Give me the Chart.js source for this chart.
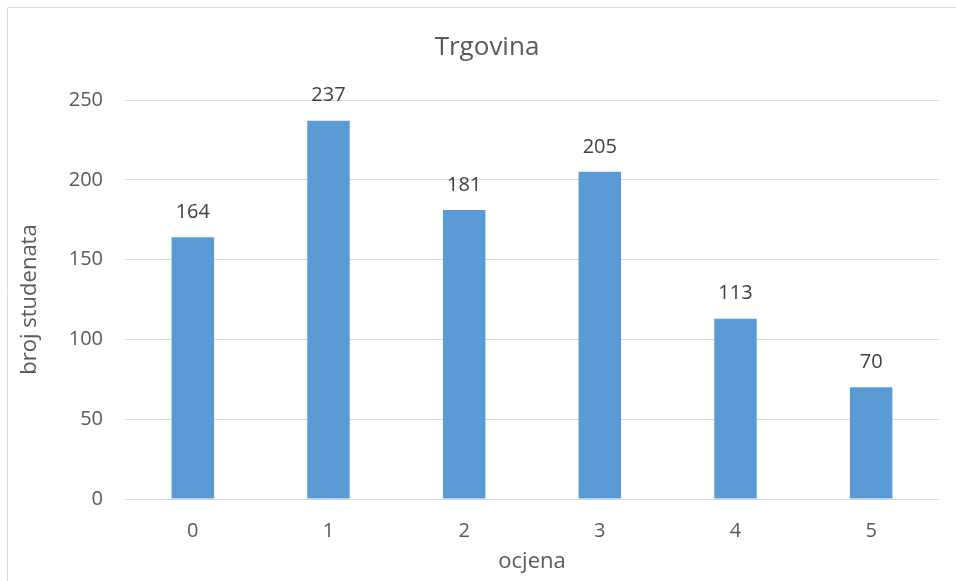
<!DOCTYPE html>
<html>
<head>
<meta charset="utf-8">
<script src="https://cdn.jsdelivr.net/npm/chart.js@4"></script>
<style>
html,body{margin:0;padding:0;background:#fff;}
#wrap{position:relative;width:956px;height:581px;}
</style>
</head>
<body>
<div id="wrap"><canvas id="c" width="956" height="581"></canvas></div>
<script>
const categories = ['0', '1', '2', '3', '4', '5'];
const studentCounts = [164, 237, 181, 205, 113, 70];
const yTicks = [0, 50, 100, 150, 200, 250];
const chartTitle = 'Trgovina';
const yTitle = 'broj studenata';
const xTitle = 'ocjena';

const FONT = "'Open Sans', sans-serif";

const frameAndLabels = {
  id: 'frameAndLabels',
  beforeDraw(chart) {
    const ctx = chart.ctx;
    ctx.save();
    ctx.strokeStyle = '#d9d9d9';
    ctx.lineWidth = 1;
    ctx.beginPath();
    ctx.moveTo(7.5, 600);
    ctx.lineTo(7.5, 7.5);
    ctx.lineTo(970, 7.5);
    ctx.stroke();
    ctx.restore();
  },
  afterDraw(chart) {
    const ctx = chart.ctx;
    ctx.save();
    // title
    ctx.fillStyle = '#595959';
    ctx.font = '26px ' + FONT;
    ctx.textAlign = 'center';
    ctx.textBaseline = 'middle';
    ctx.fillText(chartTitle, (chart.chartArea.left + chart.chartArea.right) / 2 - 45, 48);
    // data labels
    ctx.fillStyle = '#404040';
    ctx.font = '20px ' + FONT;
    const meta = chart.getDatasetMeta(0);
    meta.data.forEach((bar, i) => {
      ctx.fillText(String(studentCounts[i]), bar.x, bar.y - 25);
    });
    ctx.restore();
  }
};

new Chart(document.getElementById('c'), {
  type: 'bar',
  data: {
    labels: categories,
    datasets: [{
      data: studentCounts,
      backgroundColor: '#5b9bd5',
      borderWidth: 0,
      barPercentage: 0.313,
      categoryPercentage: 1.0
    }]
  },
  options: {
    responsive: false,
    animation: false,
    layout: { padding: { left: 0, right: 17, top: 100, bottom: 0 } },
    plugins: { legend: { display: false }, title: { display: false }, tooltip: { enabled: false } },
    scales: {
      x: {
        grid: { display: false, drawTicks: false },
        border: { display: false },
        ticks: { color: '#595959', font: { family: FONT, size: 20 }, padding: 20 },
        title: { display: true, text: xTitle, color: '#595959', font: { family: FONT, size: 22 }, padding: { top: 6, bottom: 6 } },
        afterFit(scale) { scale.height = 82; }
      },
      y: {
        min: 0, max: 250,
        afterBuildTicks(scale) { scale.ticks = yTicks.map(v => ({ value: v })); },
        grid: { color: '#d9d9d9', lineWidth: 1, drawTicks: false },
        border: { display: false },
        ticks: { color: '#595959', font: { family: FONT, size: 20 }, padding: 22 },
        title: { display: true, text: yTitle, color: '#595959', font: { family: FONT, size: 22 }, padding: { top: 17, bottom: 17 } },
        afterFit(scale) { scale.width = 125; }
      }
    }
  },
  plugins: [frameAndLabels]
});
</script>
</body>
</html>
